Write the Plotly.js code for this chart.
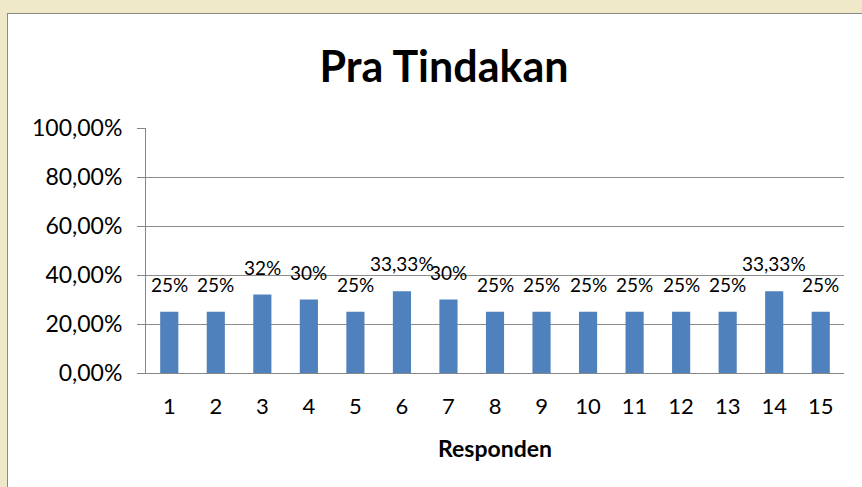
<!DOCTYPE html>
<html><head><meta charset="utf-8">
<script src="https://cdn.plot.ly/plotly-3.0.1.min.js"></script>
<style>
html,body{margin:0;padding:0;width:862px;height:487px;overflow:hidden;background:#efe9c9;}
#wrap{position:absolute;left:7px;top:13px;width:900px;height:500px;border:1px solid #8a8a8a;background:#fff;}
#chart{width:855px;height:474px;}
</style></head>
<body><div id="wrap"><div id="chart"></div></div>
<script>
const categories = ['1','2','3','4','5','6','7','8','9','10','11','12','13','14','15'];
const values = [0.25,0.25,0.32,0.30,0.25,0.3333,0.30,0.25,0.25,0.25,0.25,0.25,0.25,0.3333,0.25];
const labels = ['25%','25%','32%','30%','25%','33,33%','30%','25%','25%','25%','25%','25%','25%','33,33%','25%'];
const yTickVals = [0,0.2,0.4,0.6,0.8,1.0];
const yTickText = ['0,00%','20,00%','40,00%','60,00%','80,00%','100,00%'];
const FONT = 'Lato, "Open Sans", sans-serif';

const trace = {type:'bar', x:categories, y:values, marker:{color:'#4F81BD'}, width:0.39, hoverinfo:'none'};
const annotations = categories.map((c,i)=>({x:i, y:values[i], xref:'x', yref:'y', text:labels[i], showarrow:false,
  yanchor:'bottom', yshift:14, font:{family:FONT,size:19,color:'#000'}}));

const layout = {
  width:855, height:474,
  margin:{l:138, r:19, t:114, b:115},
  paper_bgcolor:'#fff', plot_bgcolor:'#fff',
  showlegend:false,
  title:{text:'<b>Pra Tindakan</b>', x:0.51, xanchor:'center', y:0.888, yanchor:'middle', font:{family:FONT,size:43,color:'#000'}},
  xaxis:{type:'category', range:[-0.5,14.5], ticks:'', showline:true, linecolor:'#868686', linewidth:1,
    tickfont:{family:FONT,size:22,color:'#000'}, ticklabelstandoff:14,
    title:{text:'<b>Responden</b>', font:{family:FONT,size:23,color:'#000'}, standoff:22}},
  yaxis:{range:[0,1], tickvals:yTickVals, ticktext:yTickText, showgrid:true, gridcolor:'#8c8c8c', gridwidth:1,
    showline:true, linecolor:'#868686', ticks:'outside', ticklen:8, tickcolor:'#868686',
    tickfont:{family:FONT,size:23,color:'#000'}, ticklabelstandoff:10, zeroline:false},
  annotations: annotations
};
Plotly.newPlot('chart',[trace],layout,{displayModeBar:false, staticPlot:true});
</script></body></html>
